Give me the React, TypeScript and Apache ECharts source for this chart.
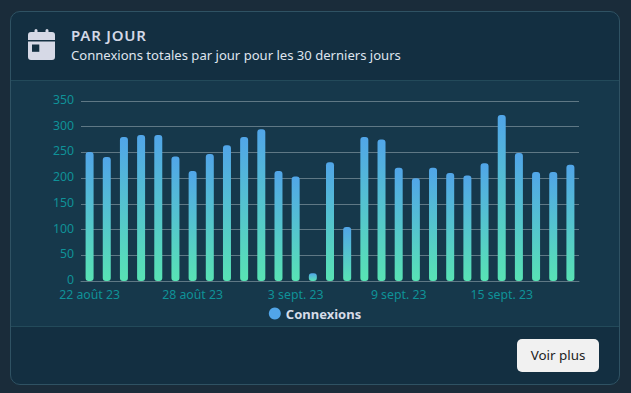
import React, { useEffect, useRef } from "react";
import * as echarts from "echarts";

const seriesName = "Connexions";
const categories = [
  "22 août 23", "23 août 23", "24 août 23", "25 août 23", "26 août 23", "27 août 23",
  "28 août 23", "29 août 23", "30 août 23", "31 août 23", "1 sept. 23", "2 sept. 23",
  "3 sept. 23", "4 sept. 23", "5 sept. 23", "6 sept. 23", "7 sept. 23", "8 sept. 23",
  "9 sept. 23", "10 sept. 23", "11 sept. 23", "12 sept. 23", "13 sept. 23", "14 sept. 23",
  "15 sept. 23", "16 sept. 23", "17 sept. 23", "18 sept. 23", "19 sept. 23",
];
const values = [
  251, 241, 280, 284, 284, 242, 214, 247, 264, 280, 295, 214, 203, 15, 231, 105, 280, 275,
  220, 200, 220, 210, 205, 229, 323, 249, 212, 212, 226,
];

const font = '"Noto Sans", "Open Sans", sans-serif';

export default function App() {
  const ref = useRef<HTMLDivElement>(null);
  useEffect(() => {
    const chart = echarts.init(ref.current!, undefined, { renderer: "svg" });
    chart.setOption({
      animation: false,
      backgroundColor: "transparent",
      textStyle: { fontFamily: font },
      grid: { left: 70, right: 40, top: 20, height: 180 },
      legend: {
        bottom: 1,
        left: "center",
        itemWidth: 12,
        itemHeight: 12,
        itemGap: 5,
        selectedMode: false,
        data: [{ name: seriesName, icon: "circle", itemStyle: { color: "#51a5e8" } }],
        textStyle: { color: "#d6dce8", fontSize: 13, fontWeight: "bold", fontFamily: font },
      },
      xAxis: {
        type: "category",
        data: categories,
        axisTick: { show: false },
        axisLine: { lineStyle: { color: "#5f7885", width: 1 } },
        axisLabel: { color: "#0f9298", fontSize: 12.3, lineHeight: 13, interval: 5, margin: 7, fontFamily: font },
      },
      yAxis: {
        type: "value",
        min: 0,
        max: 350,
        interval: 50,
        axisLine: { show: false },
        axisTick: { show: false },
        splitLine: { lineStyle: { color: "#5f7885", width: 1 } },
        axisLabel: {
          margin: 7,
          formatter: "{t|{value}}",
          rich: {
            t: {
              color: "#0f9298",
              fontSize: 12.3,
              lineHeight: 12,
              padding: [0, 0, 3, 0],
              fontFamily: font,
            },
          },
        },
      },
      series: [
        {
          name: seriesName,
          type: "bar",
          data: values,
          barWidth: 8,
          itemStyle: {
            borderRadius: 3,
            color: new echarts.graphic.LinearGradient(0, 0, 0, 1, [
              { offset: 0, color: "#51a5e8" },
              { offset: 1, color: "#58e3b4" },
            ]),
          },
        },
      ],
    });
    return () => chart.dispose();
  }, []);

  return (
    <div
      style={{
        position: "fixed",
        inset: 0,
        background: "#1a2c3a",
        fontFamily: font,
        overflow: "hidden",
      }}
    >
      <div
        style={{
          position: "absolute",
          left: 10,
          top: 11,
          width: 610,
          height: 374,
          boxSizing: "border-box",
          border: "1px solid #2f5263",
          borderRadius: 10,
          background: "#132f41",
          overflow: "hidden",
        }}
      >
        <div style={{ position: "absolute", left: 0, top: 68, right: 0, height: 1, background: "#234a5a" }} />
        <div style={{ position: "absolute", left: 0, top: 69, right: 0, height: 245, background: "#16384b" }} />
        <div style={{ position: "absolute", left: 0, top: 314, right: 0, height: 1, background: "#234a5a" }} />
        <svg
          width={27}
          height={31}
          viewBox="0 0 27 31"
          style={{ position: "absolute", left: 17, top: 17 }}
        >
          <path
            fill="#d6d9e6"
            d="M6.5 1.5a1.5 1.5 0 0 1 3 0V3h8V1.5a1.5 1.5 0 0 1 3 0V3h3.5a3 3 0 0 1 3 3v5H0V6a3 3 0 0 1 3-3h3.5ZM0 12.5h27V28a3 3 0 0 1-3 3H3a3 3 0 0 1-3-3Z"
          />
          <rect x="4" y="15.5" width="7.3" height="7.3" fill="#132f41" />
        </svg>
        <div
          style={{
            position: "absolute",
            left: 60,
            top: 13,
            color: "#d3d8e6",
            fontSize: 15,
            fontWeight: 600,
            letterSpacing: 0.8,
            lineHeight: "20px",
            whiteSpace: "nowrap",
          }}
        >
          PAR JOUR
        </div>
        <div
          style={{
            position: "absolute",
            left: 60,
            top: 33,
            color: "#dfe4ee",
            fontSize: 13.07,
            lineHeight: "20px",
            whiteSpace: "nowrap",
          }}
        >
          Connexions totales par jour pour les 30 derniers jours
        </div>
        <div ref={ref} style={{ position: "absolute", left: 0, top: 69, width: 608, height: 245 }} />
        <div
          style={{
            position: "absolute",
            left: 506,
            top: 327,
            width: 82,
            height: 33,
            boxSizing: "border-box",
            borderRadius: 5,
            background: "#f1f1f1",
            color: "#222",
            fontSize: 13.4,
            lineHeight: "33px",
            textAlign: "center",
          }}
        >
          Voir plus
        </div>
      </div>
    </div>
  );
}
